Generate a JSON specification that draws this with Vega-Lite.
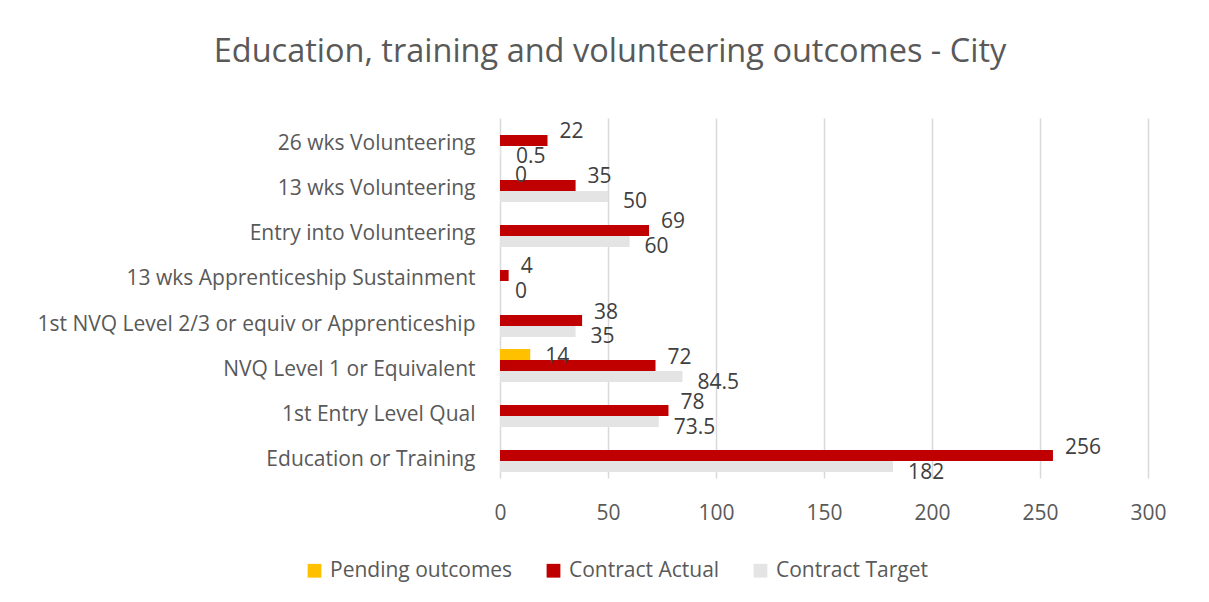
{
  "$schema": "https://vega.github.io/schema/vega-lite/v6.json",
  "autosize": {"type": "none"},
  "width": 648,
  "height": 360,
  "padding": {"left": 500, "top": 118, "right": 61, "bottom": 124},
  "background": "white",
  "title": {
    "text": "Education, training and volunteering outcomes - City",
    "anchor": "middle",
    "frame": "group",
    "dx": -214,
    "offset": 50,
    "fontSize": 32.5,
    "font": "Open Sans",
    "fontWeight": "normal",
    "color": "#595959"
  },
  "data": {
    "values": [
      {"category": "26 wks Volunteering", "series": "Contract Actual", "value": 22},
      {"category": "26 wks Volunteering", "series": "Contract Target", "value": 0.5},
      {"category": "13 wks Volunteering", "series": "Pending outcomes", "value": 0},
      {"category": "13 wks Volunteering", "series": "Contract Actual", "value": 35},
      {"category": "13 wks Volunteering", "series": "Contract Target", "value": 50},
      {"category": "Entry into Volunteering", "series": "Contract Actual", "value": 69},
      {"category": "Entry into Volunteering", "series": "Contract Target", "value": 60},
      {"category": "13 wks Apprenticeship Sustainment", "series": "Contract Actual", "value": 4},
      {"category": "13 wks Apprenticeship Sustainment", "series": "Contract Target", "value": 0},
      {"category": "1st NVQ Level 2/3 or equiv or Apprenticeship", "series": "Contract Actual", "value": 38},
      {"category": "1st NVQ Level 2/3 or equiv or Apprenticeship", "series": "Contract Target", "value": 35},
      {"category": "NVQ Level 1 or Equivalent", "series": "Pending outcomes", "value": 14},
      {"category": "NVQ Level 1 or Equivalent", "series": "Contract Actual", "value": 72},
      {"category": "NVQ Level 1 or Equivalent", "series": "Contract Target", "value": 84.5},
      {"category": "1st Entry Level Qual", "series": "Contract Actual", "value": 78},
      {"category": "1st Entry Level Qual", "series": "Contract Target", "value": 73.5},
      {"category": "Education or Training", "series": "Contract Actual", "value": 256},
      {"category": "Education or Training", "series": "Contract Target", "value": 182}
    ]
  },
  "encoding": {
    "y": {
      "field": "category",
      "type": "nominal",
      "sort": null,
      "title": null,
      "scale": {"paddingInner": 0.267, "paddingOuter": 0.133},
      "axis": {
        "domain": false,
        "ticks": false,
        "labelPadding": 25,
        "labelOffset": 4,
        "labelFontSize": 21,
        "labelFont": "Open Sans",
        "labelColor": "#595959",
        "labelLimit": 500
      }
    },
    "yOffset": {
      "field": "series",
      "type": "nominal",
      "scale": {"domain": ["Pending outcomes", "Contract Actual", "Contract Target"], "paddingInner": 0, "paddingOuter": 0}
    },
    "x": {
      "field": "value",
      "type": "quantitative",
      "title": null,
      "scale": {"domain": [0, 300], "nice": false},
      "axis": {
        "values": [0, 50, 100, 150, 200, 250, 300],
        "domain": false,
        "ticks": false,
        "grid": true,
        "gridColor": "#d9d9d9",
        "gridWidth": 1.5,
        "labelFlush": false,
        "labelPadding": 24,
        "labelFontSize": 21,
        "labelFont": "Open Sans",
        "labelColor": "#595959"
      }
    }
  },
  "layer": [
    {
      "mark": {"type": "bar"},
      "encoding": {
        "color": {
          "field": "series",
          "type": "nominal",
          "scale": {"domain": ["Pending outcomes", "Contract Actual", "Contract Target"], "range": ["#FFC000", "#C00000", "#E4E4E4"]},
          "legend": {
            "title": null,
            "orient": "none",
            "legendX": -196,
            "legendY": 442,
            "direction": "horizontal",
            "symbolType": "square",
            "symbolSize": 190,
            "symbolStrokeWidth": 0,
            "labelFontSize": 21,
            "labelFont": "Open Sans",
            "labelColor": "#595959",
            "labelLimit": 300,
            "columnPadding": 30,
            "labelOffset": 5
          }
        }
      }
    },
    {
      "transform": [{"filter": "datum.series === 'Contract Actual'"}],
      "mark": {"type": "text", "align": "left", "baseline": "middle", "dx": 12, "dy": -8, "fontSize": 21, "font": "Open Sans", "color": "#404040"},
      "encoding": {"text": {"field": "value", "type": "quantitative"}}
    },
    {
      "transform": [{"filter": "datum.series === 'Contract Target'"}],
      "mark": {"type": "text", "align": "left", "baseline": "middle", "dx": 15, "dy": 6, "fontSize": 21, "font": "Open Sans", "color": "#404040"},
      "encoding": {"text": {"field": "value", "type": "quantitative"}}
    },
    {
      "transform": [{"filter": "datum.series === 'Pending outcomes'"}],
      "mark": {"type": "text", "align": "left", "baseline": "middle", "dx": 15, "dy": 2, "fontSize": 21, "font": "Open Sans", "color": "#404040"},
      "encoding": {"text": {"field": "value", "type": "quantitative"}}
    }
  ],
  "config": {"view": {"stroke": null}}
}
